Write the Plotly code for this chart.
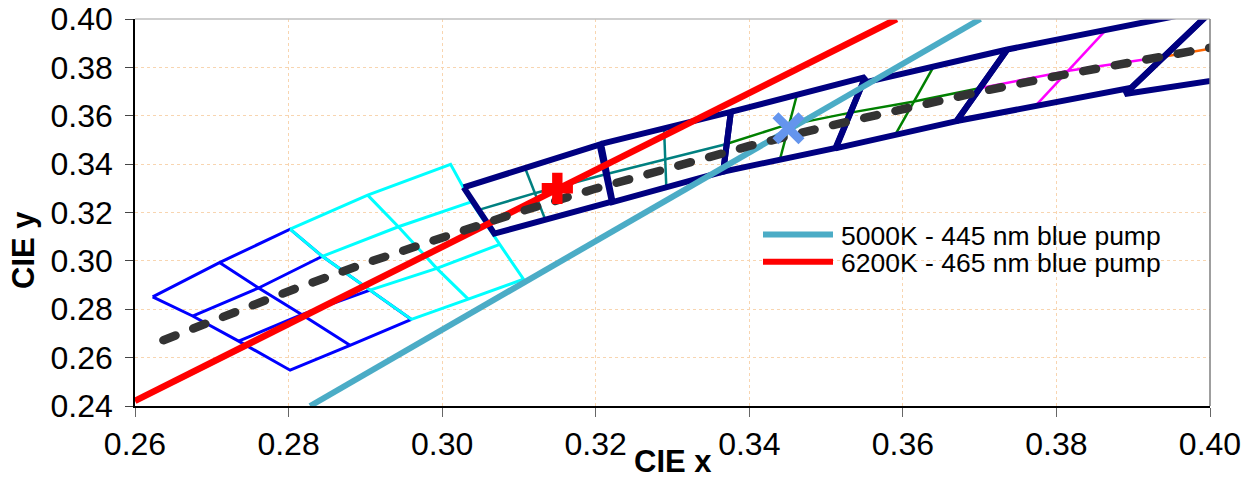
import plotly.graph_objects as go

# ---------------- data (CIE x, y) ----------------
# Planckian locus (dashed)
LOCUS_X = [0.2637, 0.2720, 0.2807, 0.2900, 0.3000, 0.3100, 0.3200, 0.3300, 0.3400, 0.3500, 0.3600, 0.3700, 0.3800, 0.3900, 0.4000]
LOCUS_Y = [0.2672, 0.2778, 0.2883, 0.2990, 0.3099, 0.3202, 0.3299, 0.3390, 0.3475, 0.3555, 0.3630, 0.3699, 0.3764, 0.3825, 0.3881]

# pump mixing lines
LINE_NAMES = ["5000K - 445 nm blue pump", "6200K - 465 nm blue pump"]
PUMP445_X = [0.2828, 0.3701]
PUMP445_Y = [0.2400, 0.4000]
PUMP465_X = [0.2600, 0.3592]
PUMP465_Y = [0.2421, 0.4000]

# target points
PLUS_X, PLUS_Y = [0.3150], [0.3300]
CROSS_X, CROSS_Y = [0.3451], [0.3548]

# ANSI-type quadrangles (TL, TR, BR, BL)
BOX_NAMES = ["6500K", "5700K", "5000K", "4500K", "4000K", "3500K"]
BOX_X = [[0.3028, 0.3205, 0.3221, 0.3068],
         [0.3207, 0.3376, 0.3366, 0.3222],
         [0.3376, 0.3551, 0.3513, 0.3366],
         [0.3548, 0.3736, 0.3670, 0.3512],
         [0.3736, 0.4006, 0.3898, 0.3670],
         [0.3996, 0.4299, 0.4147, 0.3889]]
BOX_Y = [[0.3304, 0.3481, 0.3245, 0.3113],
         [0.3484, 0.3616, 0.3369, 0.3243],
         [0.3616, 0.3760, 0.3467, 0.3369],
         [0.3736, 0.3874, 0.3578, 0.3465],
         [0.3874, 0.4044, 0.3716, 0.3578],
         [0.4015, 0.4165, 0.3814, 0.3690]]

# sub-bin lines inside the quadrangles
TEAL_X = [0.3051, 0.3123, 0.3213, 0.3287, 0.3368, None, 0.3108, 0.3134, None, 0.3289, 0.3292]
TEAL_Y = [0.3214, 0.3282, 0.3358, 0.3417, 0.3481, None, 0.3384, 0.3173, None, 0.3548, 0.3299]
GREEN_X = [0.3368, 0.3440, 0.3532, 0.3613, 0.3698, None, 0.3462, 0.3440, None, 0.3640, 0.3590]
GREEN_Y = [0.3481, 0.3554, 0.3613, 0.3658, 0.3713, None, 0.3686, 0.3420, None, 0.3803, 0.3521]
MAGENTA_X = [0.3698, 0.3818, 0.3943, None, 0.3864, 0.3773]
MAGENTA_Y = [0.3713, 0.3787, 0.3846, None, 0.3953, 0.3642]
ORANGE_X = [0.3943, 0.4073]
ORANGE_Y = [0.3846, 0.3917]

# high-CCT grids (blue and cyan)
BLUE_X = [0.2623, 0.2710, 0.2802, 0.2844, 0.2906, 0.2960, 0.2880, 0.2802, 0.2735, 0.2675, 0.2623,
          None, 0.2710, 0.2761, 0.2817, 0.2880,
          None, 0.2675, 0.2761, 0.2844,
          None, 0.2735, 0.2817, 0.2906]
BLUE_Y = [0.2851, 0.2993, 0.3131, 0.3019, 0.2879, 0.2758, 0.2651, 0.2548, 0.2668, 0.2772, 0.2851,
          None, 0.2993, 0.2888, 0.2778, 0.2651,
          None, 0.2772, 0.2888, 0.3019,
          None, 0.2668, 0.2778, 0.2879]
CYAN_X = [0.2802, 0.2903, 0.3011, 0.3038, 0.3075, 0.3106, 0.3034, 0.2960, 0.2906, 0.2844, 0.2802,
          None, 0.2903, 0.2943, 0.2993, 0.3034,
          None, 0.2844, 0.2943, 0.3038,
          None, 0.2906, 0.2993, 0.3075]
CYAN_Y = [0.3131, 0.3272, 0.3399, 0.3244, 0.3068, 0.2924, 0.2842, 0.2758, 0.2879, 0.3019, 0.3131,
          None, 0.3272, 0.3141, 0.2969, 0.2842,
          None, 0.3019, 0.3141, 0.3244,
          None, 0.2879, 0.2969, 0.3068]

X_TICKS = [0.26, 0.28, 0.30, 0.32, 0.34, 0.36, 0.38, 0.40]
Y_TICKS = [0.24, 0.26, 0.28, 0.30, 0.32, 0.34, 0.36, 0.38, 0.40]

# ---------------- styles ----------------
FONT = "Liberation Sans, Arial, sans-serif"
C_445 = "#4BACC6"
C_465 = "#FF0000"

fig = go.Figure()


def add_line(x, y, color, width, dash=None, name=None):
    fig.add_trace(go.Scatter(x=x, y=y, mode="lines", showlegend=False, hoverinfo="skip", name=name,
                             line=dict(color=color, width=width, dash=dash)))


add_line(BLUE_X, BLUE_Y, "#0000FF", 3)
add_line(CYAN_X, CYAN_Y, "#00FFFF", 3)
add_line(TEAL_X, TEAL_Y, "#008080", 2.5)
add_line(GREEN_X, GREEN_Y, "#008000", 2.5)
add_line(MAGENTA_X, MAGENTA_Y, "#FF00FF", 2.5)
add_line(ORANGE_X, ORANGE_Y, "#FF6600", 2.5)

bx, by = [], []
for xs, ys in zip(BOX_X, BOX_Y):
    bx += xs + [xs[0], None]
    by += ys + [ys[0], None]
add_line(bx, by, "#000080", 6)

add_line(PUMP465_X, PUMP465_Y, C_465, 6.5, name=LINE_NAMES[1])
add_line(PUMP445_X, PUMP445_Y, C_445, 6, name=LINE_NAMES[0])
add_line(LOCUS_X, LOCUS_Y, "#333333", 8.5, dash="13px,19px", name="locus")

fig.add_trace(go.Scatter(x=PLUS_X, y=PLUS_Y, mode="markers", showlegend=False, hoverinfo="skip",
                         marker=dict(symbol="cross", size=26, color="#FF0000", line=dict(width=0))))
fig.add_trace(go.Scatter(x=CROSS_X, y=CROSS_Y, mode="markers", showlegend=False, hoverinfo="skip",
                         marker=dict(symbol="x-thin", size=26, color="#6495ED",
                                     line=dict(width=8.5, color="#6495ED"))))

# ---------------- manual legend ----------------
L, R, T, B = 135, 37, 19, 72
W, H = 1247, 478
PW, PH = W - L - R, H - T - B


def px2paper(px, py):
    return (px - L) / PW, (H - B - py) / PH


for name, col, py in zip(LINE_NAMES, [C_445, C_465], [234.5, 261.7]):
    x0, y0 = px2paper(763, py)
    x1, _ = px2paper(833, py)
    fig.add_shape(type="line", xref="paper", yref="paper", x0=x0, x1=x1, y0=y0, y1=y0,
                  line=dict(color=col, width=6))
    tx, ty = px2paper(839, py + 1)
    fig.add_annotation(xref="paper", yref="paper", x=tx, y=ty, text=name, showarrow=False,
                       xanchor="left", yanchor="middle", font=dict(family=FONT, size=26.5, color="#000000"))

# plot frame (top and right)
fig.add_shape(type="line", xref="paper", yref="paper", x0=0, x1=1, y0=1, y1=1,
              line=dict(color="#BFBFBF", width=1.5))
fig.add_shape(type="line", xref="paper", yref="paper", x0=1, x1=1, y0=0, y1=1,
              line=dict(color="#7F7F7F", width=1.5))

# axis titles
ax_, ay_ = px2paper(672.5, 461)
fig.add_annotation(xref="paper", yref="paper", x=ax_, y=ay_, text="<b>CIE x</b>", showarrow=False,
                   xanchor="center", yanchor="middle", font=dict(family=FONT, size=31, color="#000000"))
bx_, by_ = px2paper(24, 250)
fig.add_annotation(xref="paper", yref="paper", x=bx_, y=by_, text="<b>CIE y</b>", showarrow=False,
                   textangle=-90, xanchor="center", yanchor="middle",
                   font=dict(family=FONT, size=31, color="#000000"))

GRID = "#F8D5B0"
fig.update_layout(
    width=W, height=H,
    margin=dict(l=L, r=R, t=T, b=B, autoexpand=False),
    paper_bgcolor="#FFFFFF", plot_bgcolor="#FFFFFF",
    showlegend=False,
    xaxis=dict(range=[0.26, 0.40], tickvals=X_TICKS, ticktext=[f"{v:.2f}" for v in X_TICKS],
               showgrid=True, gridcolor=GRID, griddash="dot", gridwidth=1,
               zeroline=False, showline=True, linecolor="#000000", linewidth=1.5,
               ticks="outside", ticklen=9, tickcolor="#666666", tickwidth=1.2,
               automargin=False, ticklabelstandoff=0,
               tickfont=dict(family=FONT, size=32, color="#000000")),
    yaxis=dict(range=[0.24, 0.40], tickvals=Y_TICKS, ticktext=[f"{v:.2f}" for v in Y_TICKS],
               showgrid=True, gridcolor=GRID, griddash="dot", gridwidth=1,
               zeroline=False, showline=True, linecolor="#000000", linewidth=1.5,
               ticks="outside", ticklen=8, tickcolor="#444444", tickwidth=1.2,
               automargin=False, ticklabelstandoff=6,
               tickfont=dict(family=FONT, size=32, color="#000000")),
)

POST = (
    "document.body.style.margin='0px';document.body.style.overflow='hidden';"
    "var tr=document.querySelectorAll('.scatterlayer .trace');"
    "if(tr.length>9){var p=tr[9].querySelector('path.js-line');"
    "if(p){p.style.strokeLinecap='round';}}"
)
fig.write_html("out.html", post_script=POST, config={"displayModeBar": False})
